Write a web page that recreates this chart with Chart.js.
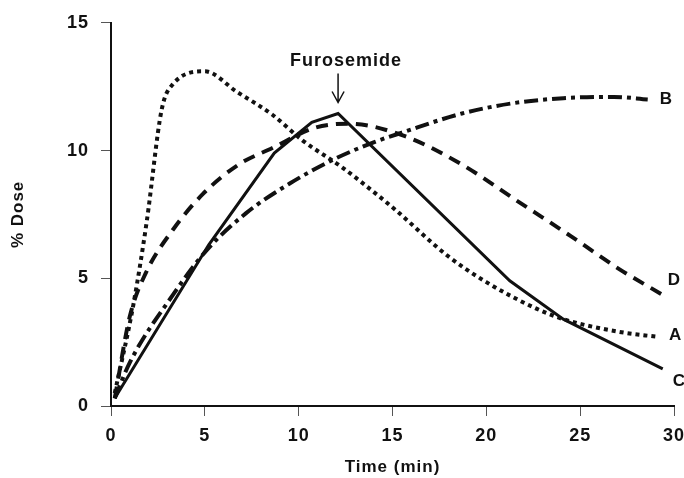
<!DOCTYPE html>
<html>
<head>
<meta charset="utf-8">
<script src="https://cdn.jsdelivr.net/npm/chart.js@4.4.1/dist/chart.umd.min.js"></script>
<style>
  html, body { margin: 0; padding: 0; background: #fff; }
  #wrap { width: 684px; height: 478px; }
</style>
</head>
<body>
<div id="wrap"><canvas id="chart" width="684" height="478"></canvas></div>
<script>
// values (time in min, % dose)
const timeA = [0.2, 1.2, 1.9, 2.7, 3.3, 5.0, 6.7, 8.6, 10.2, 12.3, 14.3, 15.2, 17.9, 20.0, 22.7, 24.1, 27.1, 29.2];
const doseA = [0.5, 4.0, 7.2, 11.6, 12.6, 13.1, 12.3, 11.4, 10.4, 9.35, 8.2, 7.65, 5.9, 4.85, 3.8, 3.4, 2.9, 2.7];

const timeB = [0.2, 1.0, 3.3, 5.1, 7.2, 9.5, 12.0, 14.1, 15.5, 18.7, 21.4, 24.1, 26.8, 28.6];
const doseB = [0.3, 1.7, 4.35, 6.1, 7.55, 8.7, 9.7, 10.35, 10.7, 11.45, 11.85, 12.05, 12.1, 12.0];

const timeC = [0.2, 5.2, 8.7, 10.7, 12.1, 21.25, 24.1, 29.4];
const doseC = [0.3, 6.3, 9.9, 11.1, 11.45, 4.9, 3.4, 1.45];

const timeD = [0.2, 1.0, 1.85, 3.3, 4.9, 6.8, 8.6, 10.9, 12.7, 15.7, 18.7, 21.6, 24.5, 27.1, 29.4];
const doseD = [0.3, 3.5, 5.2, 6.9, 8.3, 9.45, 10.1, 10.9, 11.05, 10.55, 9.45, 8.05, 6.65, 5.35, 4.35];

const seriesNames = ['A', 'B', 'C', 'D'];
const yTicks = [0, 5, 10, 15];
const xTicks = [0, 5, 10, 15, 20, 25, 30];
const drugLabel = 'Furosemide';
const drugTime = 12.1;
const drugDose = 11.45;

const FONT = "'Liberation Sans', Arial, Helvetica, sans-serif";

function pts(xs, ys) {
    return xs.map((x, i) => ({ x: x, y: ys[i] }));
}

// the original lettering is slightly tracked out
const spacing = {
    id: 'spacing',
    beforeLayout(chart) { chart.ctx.letterSpacing = '1px'; },
    beforeDraw(chart) { chart.ctx.letterSpacing = '1px'; }
};

// end labels A-D and the Furosemide arrow
const annotations = {
    id: 'annotations',
    afterDatasetsDraw(chart) {
        const ctx = chart.ctx;
        const xs = chart.scales.x;
        const ys = chart.scales.y;
        ctx.save();
        ctx.letterSpacing = '1px';
        ctx.fillStyle = '#111';
        ctx.font = 'bold 17px ' + FONT;
        ctx.textBaseline = 'middle';
        ctx.textAlign = 'left';
        const offs = { A: [10, -2], B: [12, 0], C: [10, 12], D: [5, -15] };
        chart.data.datasets.forEach((ds, i) => {
            const last = ds.data[ds.data.length - 1];
            const name = seriesNames[i];
            const o = offs[name];
            ctx.fillText(name, xs.getPixelForValue(last.x) + o[0], ys.getPixelForValue(last.y) + o[1]);
        });

        const px = xs.getPixelForValue(drugTime);
        const py = ys.getPixelForValue(drugDose);
        ctx.font = 'bold 18px ' + FONT;
        ctx.textAlign = 'center';
        ctx.fillText(drugLabel, px + 8, py - 52);
        ctx.strokeStyle = '#111';
        ctx.lineWidth = 1.5;
        ctx.beginPath();
        ctx.moveTo(px, py - 40);
        ctx.lineTo(px, py - 11);
        ctx.moveTo(px - 6, py - 22);
        ctx.lineTo(px, py - 11);
        ctx.lineTo(px + 6, py - 22);
        ctx.stroke();
        ctx.restore();
    }
};

new Chart(document.getElementById('chart').getContext('2d'), {
    type: 'line',
    data: {
        datasets: [{
            label: 'A',
            data: pts(timeA, doseA),
            borderColor: '#111',
            borderWidth: 4,
            borderDash: [4, 4],
            cubicInterpolationMode: 'monotone',
            pointRadius: 0
        }, {
            label: 'B',
            data: pts(timeB, doseB),
            borderColor: '#111',
            borderWidth: 4,
            borderDash: [14, 5, 4, 5],
            cubicInterpolationMode: 'monotone',
            pointRadius: 0
        }, {
            label: 'C',
            data: pts(timeC, doseC),
            borderColor: '#111',
            borderWidth: 3,
            tension: 0,
            pointRadius: 0
        }, {
            label: 'D',
            data: pts(timeD, doseD),
            borderColor: '#111',
            borderWidth: 4,
            borderDash: [12, 8],
            cubicInterpolationMode: 'monotone',
            pointRadius: 0
        }]
    },
    options: {
        responsive: false,
        animation: false,
        layout: { padding: { top: 16, right: 0, left: 0, bottom: 0 } },
        plugins: {
            legend: { display: false },
            tooltip: { enabled: false }
        },
        scales: {
            x: {
                type: 'linear',
                min: 0,
                max: 30,
                afterFit(scale) {
                    scale.height = 72;
                    scale.paddingLeft = 0;
                    scale.paddingRight = 10;
                },
                afterBuildTicks(scale) { scale.ticks = xTicks.map(v => ({ value: v })); },
                grid: { drawOnChartArea: false, color: '#555', tickLength: 10, lineWidth: 1 },
                border: { color: '#111', width: 2 },
                ticks: { color: '#111', padding: 9, font: { family: FONT, size: 18, weight: 'bold' } },
                title: {
                    display: true,
                    text: 'Time (min)',
                    color: '#111',
                    padding: { top: 2, bottom: 0 },
                    font: { family: FONT, size: 17, weight: 'bold' }
                }
            },
            y: {
                min: 0,
                max: 15,
                afterFit(scale) { scale.width = 111; },
                afterBuildTicks(scale) { scale.ticks = yTicks.map(v => ({ value: v })); },
                grid: { drawOnChartArea: false, color: '#555', tickLength: 10, lineWidth: 1 },
                border: { color: '#111', width: 2 },
                ticks: { color: '#111', padding: 12, font: { family: FONT, size: 18, weight: 'bold' } },
                title: {
                    display: true,
                    text: '% Dose',
                    color: '#111',
                    padding: { top: 8, bottom: 0 },
                    font: { family: FONT, size: 17, weight: 'bold' }
                }
            }
        }
    },
    plugins: [spacing, annotations]
});
</script>
</body>
</html>
